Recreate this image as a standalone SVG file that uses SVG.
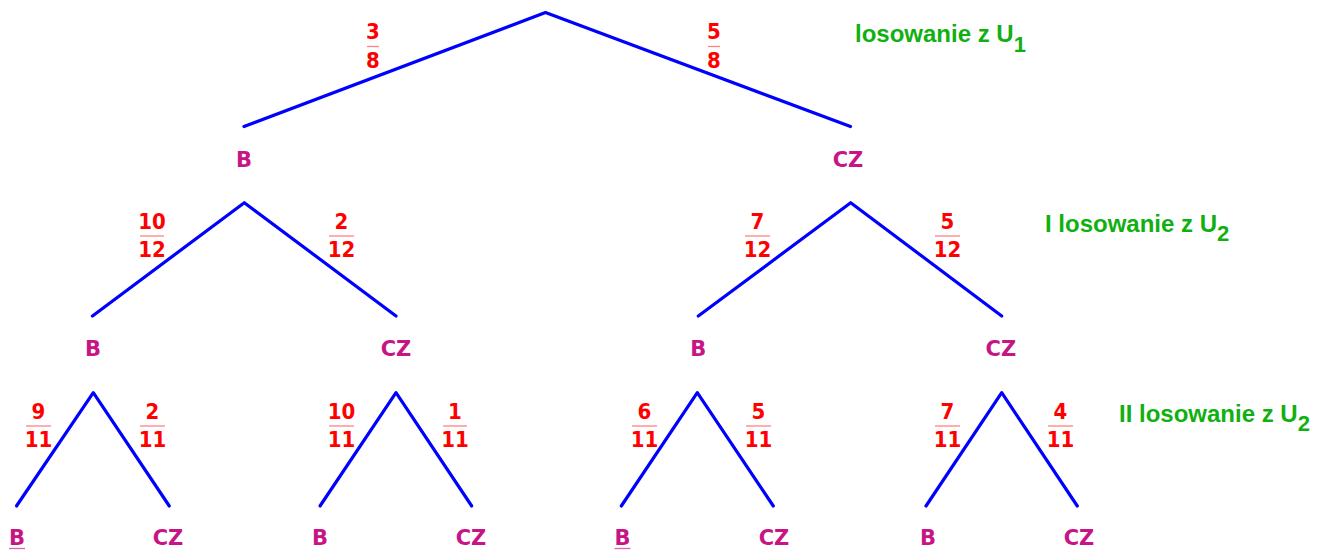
<svg xmlns="http://www.w3.org/2000/svg" width="1322" height="551" viewBox="0 0 1322 551">
<style>
.edge{fill:none;stroke:#0000ff;stroke-width:3.2;stroke-linecap:round;stroke-linejoin:round}
.num{font-family:"DejaVu Sans Condensed","DejaVu Sans",sans-serif;font-stretch:condensed;font-weight:bold;font-size:22px;fill:#ff0000;text-anchor:middle}
.bar{stroke:#ff8080;stroke-width:1.3}
.lab{font-family:"DejaVu Sans",sans-serif;font-weight:bold;font-size:21px;fill:#c71585;text-anchor:middle}
.ul{stroke:#d868a8;stroke-width:1.3}
.lvl{font-family:"Liberation Sans",Arial,sans-serif;font-weight:bold;font-size:24px;fill:#10b010}
</style>
<rect width="1322" height="551" fill="#ffffff"/>
<g id="connectors">
<polyline class="edge" points="244,126.5 545.5,12.5 850.5,126.5"/>
<polyline class="edge" points="92.5,316 244.3,202.7 396,316"/>
<polyline class="edge" points="698.3,316 850.7,202.7 1001.7,316"/>
<polyline class="edge" points="16.5,506 93.3,392.7 169.3,506"/>
<polyline class="edge" points="320,506 396,392.7 471.7,506"/>
<polyline class="edge" points="621.3,506 697.3,392.7 773.3,506"/>
<polyline class="edge" points="926,506 1001.7,392.7 1077.3,506"/>
</g>
<g id="probabilities">
<g id="p-3-8"><text class="num" x="373" y="39">3</text><line class="bar" x1="367" y1="46.5" x2="379" y2="46.5"/><text class="num" x="373" y="68">8</text></g>
<g id="p-5-8"><text class="num" x="714" y="39">5</text><line class="bar" x1="708" y1="46.5" x2="720" y2="46.5"/><text class="num" x="714" y="68">8</text></g>
<g id="p-10-12"><text class="num" x="152" y="229">10</text><line class="bar" x1="140" y1="236" x2="164" y2="236"/><text class="num" x="152" y="257">12</text></g>
<g id="p-2-12"><text class="num" x="341.5" y="229">2</text><line class="bar" x1="329" y1="236" x2="354" y2="236"/><text class="num" x="341.5" y="257">12</text></g>
<g id="p-7-12"><text class="num" x="757.5" y="229">7</text><line class="bar" x1="745" y1="236" x2="770" y2="236"/><text class="num" x="757.5" y="257">12</text></g>
<g id="p-5-12"><text class="num" x="947.5" y="229">5</text><line class="bar" x1="935" y1="236" x2="960" y2="236"/><text class="num" x="947.5" y="257">12</text></g>
<g id="p-9-11"><text class="num" x="38.5" y="419">9</text><line class="bar" x1="26" y1="426" x2="51" y2="426"/><text class="num" x="38.5" y="447">11</text></g>
<g id="p-2-11"><text class="num" x="152.5" y="419">2</text><line class="bar" x1="140" y1="426" x2="165" y2="426"/><text class="num" x="152.5" y="447">11</text></g>
<g id="p-10-11"><text class="num" x="341.5" y="419">10</text><line class="bar" x1="329" y1="426" x2="354" y2="426"/><text class="num" x="341.5" y="447">11</text></g>
<g id="p-1-11"><text class="num" x="455" y="419">1</text><line class="bar" x1="443" y1="426" x2="467" y2="426"/><text class="num" x="455" y="447">11</text></g>
<g id="p-6-11"><text class="num" x="644.5" y="419">6</text><line class="bar" x1="632" y1="426" x2="657" y2="426"/><text class="num" x="644.5" y="447">11</text></g>
<g id="p-5-11"><text class="num" x="758.5" y="419">5</text><line class="bar" x1="746" y1="426" x2="771" y2="426"/><text class="num" x="758.5" y="447">11</text></g>
<g id="p-7-11"><text class="num" x="947.5" y="419">7</text><line class="bar" x1="935" y1="426" x2="960" y2="426"/><text class="num" x="947.5" y="447">11</text></g>
<g id="p-4-11"><text class="num" x="1060.5" y="419">4</text><line class="bar" x1="1048" y1="426" x2="1073" y2="426"/><text class="num" x="1060.5" y="447">11</text></g>
</g>
<g id="n1-B"><text class="lab" x="244" y="166.5">B</text></g>
<g id="n1-CZ"><text class="lab" x="848" y="166.5">CZ</text></g>
<g id="n2-B-B"><text class="lab" x="93" y="356">B</text></g>
<g id="n2-B-CZ"><text class="lab" x="396" y="356">CZ</text></g>
<g id="n2-CZ-B"><text class="lab" x="698.3" y="356">B</text></g>
<g id="n2-CZ-CZ"><text class="lab" x="1000.8" y="356">CZ</text></g>
<g id="n3-1"><text class="lab" x="17" y="545">B</text><line class="ul" x1="9" y1="548.5" x2="25" y2="548.5"/></g>
<g id="n3-2"><text class="lab" x="168" y="545">CZ</text></g>
<g id="n3-3"><text class="lab" x="320" y="545">B</text></g>
<g id="n3-4"><text class="lab" x="471" y="545">CZ</text></g>
<g id="n3-5"><text class="lab" x="622.5" y="545">B</text><line class="ul" x1="614.5" y1="548.5" x2="630.5" y2="548.5"/></g>
<g id="n3-6"><text class="lab" x="774" y="545">CZ</text></g>
<g id="n3-7"><text class="lab" x="928" y="545">B</text></g>
<g id="n3-8"><text class="lab" x="1079" y="545">CZ</text></g>
<g id="levels">
<text class="lvl" x="855" y="42">losowanie z U<tspan dy="9.5" font-size="22">1</tspan></text>
<text class="lvl" x="1045" y="231.7">I losowanie z U<tspan dy="9.5" font-size="22">2</tspan></text>
<text class="lvl" x="1119" y="421.7">II losowanie z U<tspan dy="9.5" font-size="22">2</tspan></text>
</g>
</svg>
